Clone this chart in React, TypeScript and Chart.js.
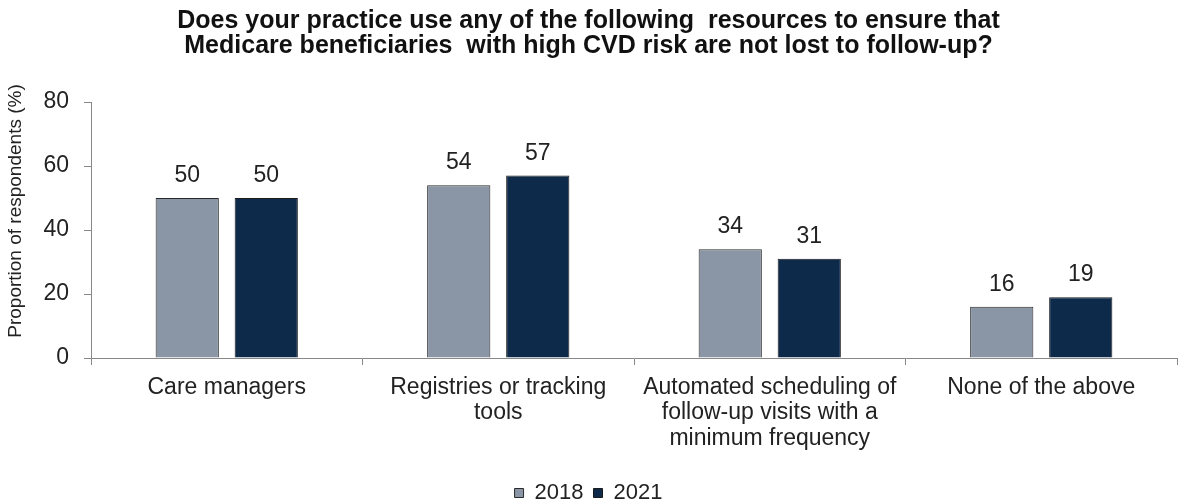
import React, { useEffect, useRef } from "react";
import { Chart, registerables } from "chart.js";

Chart.register(...registerables);

const categories: string[][] = [
  ["Care managers"],
  ["Registries or tracking", "tools"],
  ["Automated scheduling of", "follow-up visits with a", "minimum frequency"],
  ["None of the above"],
];
const values2018: number[] = [50, 54, 34, 16];
const values2021: number[] = [50, 57, 31, 19];
const yTicks: number[] = [0, 20, 40, 60, 80];
const titleLines: string[] = [
  "Does your practice use any of the following  resources to ensure that",
  "Medicare beneficiaries  with high CVD risk are not lost to follow-up?",
];
const yTitle = "Proportion of respondents (%)";

const FONT = "'Liberation Sans', Arial, sans-serif";

const dataLabels = {
  id: "dataLabels",
  afterDatasetsDraw(chart: any) {
    const ctx = chart.ctx;
    ctx.save();
    ctx.font = `23px ${FONT}`;
    ctx.fillStyle = "#222";
    ctx.textAlign = "center";
    ctx.textBaseline = "alphabetic";
    chart.data.datasets.forEach((ds: any, i: number) => {
      const meta = chart.getDatasetMeta(i);
      meta.data.forEach((bar: any, j: number) => {
        ctx.fillText(String(ds.data[j]), bar.x, bar.y - 16);
      });
    });
    ctx.restore();
  },
};

const yAxisTitle = {
  id: "yAxisTitle",
  afterDraw(chart: any) {
    const ctx = chart.ctx;
    const area = chart.chartArea;
    ctx.save();
    ctx.font = `19px ${FONT}`;
    ctx.fillStyle = "#222";
    ctx.textAlign = "center";
    ctx.textBaseline = "middle";
    ctx.translate(16, (area.top + area.bottom) / 2 - 19);
    ctx.rotate(-Math.PI / 2);
    ctx.fillText(yTitle, 0, 0);
    ctx.restore();
  },
};

export default function App() {
  const ref = useRef<HTMLCanvasElement>(null);
  useEffect(() => {
    document.body.style.margin = "0";
    const chart = new Chart(ref.current!, {
      type: "bar",
      data: {
        labels: categories,
        datasets: [
          {
            label: "2018",
            data: values2018,
            backgroundColor: "#8a95a5",
            borderColor: "#2a2a2a",
            borderWidth: 1,
          },
          {
            label: "2021",
            data: values2021,
            backgroundColor: "#0e2a4b",
            borderColor: "#1a1a1a",
            borderWidth: 1,
          },
        ],
      },
      options: {
        responsive: false,
        animation: false,
        layout: { padding: { left: 0, right: 7, top: 0, bottom: -11 } },
        datasets: {
          bar: { categoryPercentage: 0.582, barPercentage: 0.8 },
        } as any,
        plugins: {
          title: {
            display: true,
            text: titleLines,
            font: { family: FONT, size: 25, weight: "bold", lineHeight: 1.0 },
            color: "#111",
            padding: { top: 9, bottom: 43 },
          },
          legend: {
            position: "bottom",
            labels: {
              boxWidth: 9,
              boxHeight: 9,
              font: { family: FONT, size: 22 },
              color: "#222",
              padding: 10,
            },
          },
          tooltip: { enabled: false },
        },
        scales: {
          x: {
            afterFit: (axis: any) => {
              axis.height = 114;
            },
            grid: {
              offset: true,
              drawOnChartArea: false,
              drawTicks: true,
              tickLength: 7,
              color: "#888",
            },
            border: { color: "#888" },
            ticks: {
              font: { family: FONT, size: 23, lineHeight: 1.1 },
              color: "#222",
              maxRotation: 0,
              autoSkip: false,
              padding: 10,
            },
          },
          y: {
            min: 0,
            max: 80,
            afterBuildTicks: (axis: any) => {
              axis.ticks = yTicks.map((v) => ({ value: v }));
            },
            afterFit: (axis: any) => {
              axis.width = 91;
            },
            grid: {
              drawOnChartArea: false,
              drawTicks: true,
              tickLength: 7,
              color: "#888",
            },
            border: { color: "#888" },
            ticks: {
              font: { family: FONT, size: 23 },
              color: "#222",
              padding: 15,
            },
          },
        },
      },
      plugins: [dataLabels, yAxisTitle],
    });
    return () => chart.destroy();
  }, []);
  return <canvas ref={ref} width={1184} height={503} style={{ display: "block" }} />;
}
